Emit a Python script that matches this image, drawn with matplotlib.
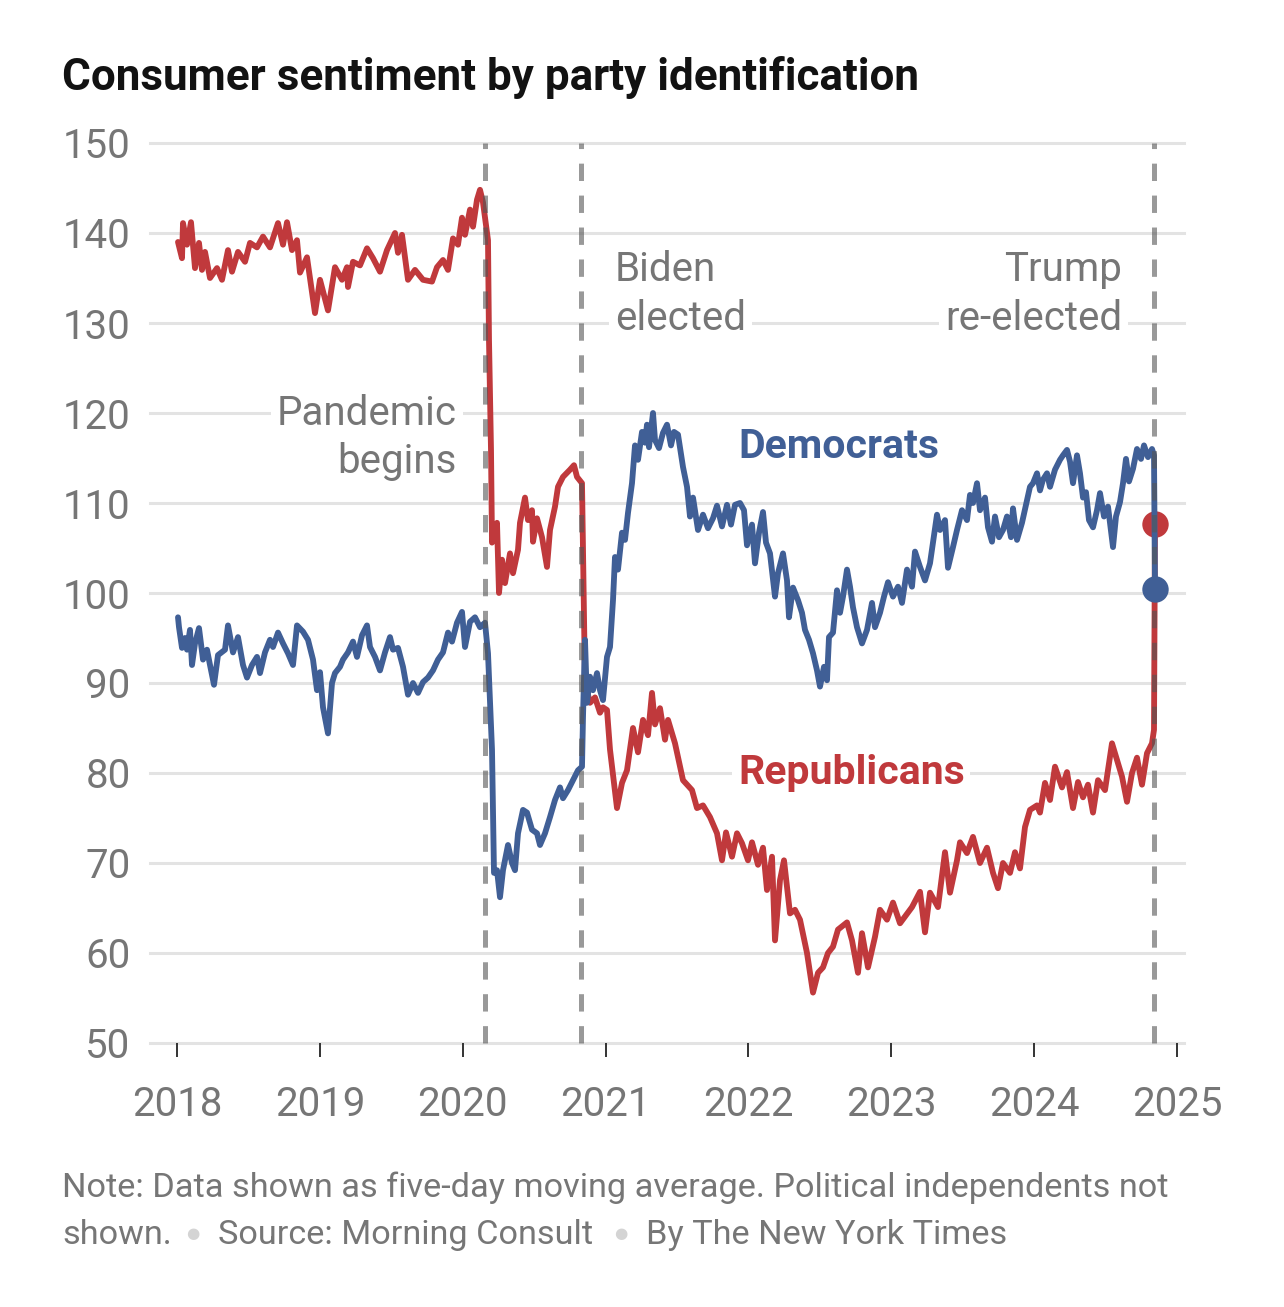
import matplotlib
matplotlib.use("Agg")
import matplotlib.pyplot as plt
from matplotlib import font_manager

# ---------------- data (decimal year, index value) ----------------
rep_dates = [2018.007, 2018.035, 2018.042, 2018.070, 2018.098, 2018.126, 2018.154, 2018.175, 2018.196, 2018.231,
             2018.280, 2018.315, 2018.357, 2018.385, 2018.427, 2018.476, 2018.511, 2018.560, 2018.602, 2018.651,
             2018.707, 2018.742, 2018.770, 2018.805, 2018.840, 2018.861, 2018.910, 2018.966, 2019.001, 2019.057,
             2019.106, 2019.155, 2019.190, 2019.197, 2019.232, 2019.281, 2019.330, 2019.372, 2019.421, 2019.470,
             2019.526, 2019.547, 2019.575, 2019.617, 2019.666, 2019.722, 2019.785, 2019.820, 2019.862, 2019.897,
             2019.932, 2019.967, 2019.995, 2020.016, 2020.051, 2020.072, 2020.100, 2020.121, 2020.142, 2020.177,
             2020.184, 2020.198, 2020.205, 2020.240, 2020.254, 2020.275, 2020.296, 2020.331, 2020.352, 2020.387,
             2020.401, 2020.436, 2020.457, 2020.485, 2020.492, 2020.520, 2020.555, 2020.590, 2020.611, 2020.646,
             2020.667, 2020.702, 2020.751, 2020.779, 2020.800, 2020.835, 2020.842, 2020.856, 2020.891, 2020.926,
             2020.961, 2020.982, 2021.010, 2021.031, 2021.080, 2021.115, 2021.150, 2021.192, 2021.227, 2021.262,
             2021.297, 2021.325, 2021.346, 2021.381, 2021.416, 2021.437, 2021.486, 2021.542, 2021.605, 2021.640,
             2021.682, 2021.731, 2021.780, 2021.815, 2021.843, 2021.885, 2021.920, 2021.955, 2021.997, 2022.025,
             2022.067, 2022.102, 2022.130, 2022.165, 2022.186, 2022.221, 2022.249, 2022.291, 2022.326, 2022.361,
             2022.410, 2022.452, 2022.487, 2022.522, 2022.557, 2022.592, 2022.627, 2022.690, 2022.725, 2022.767,
             2022.795, 2022.837, 2022.886, 2022.921, 2022.970, 2023.012, 2023.061, 2023.145, 2023.201, 2023.236,
             2023.271, 2023.327, 2023.376, 2023.411, 2023.460, 2023.481, 2023.530, 2023.572, 2023.621, 2023.670,
             2023.712, 2023.747, 2023.782, 2023.831, 2023.866, 2023.901, 2023.936, 2023.971, 2024.020, 2024.041,
             2024.076, 2024.111, 2024.146, 2024.195, 2024.230, 2024.272, 2024.307, 2024.342, 2024.377, 2024.412,
             2024.447, 2024.496, 2024.545, 2024.587, 2024.615, 2024.650, 2024.685, 2024.720, 2024.755, 2024.790,
             2024.825, 2024.839, 2024.846]
rep_values = [139.0, 137.2, 141.1, 138.7, 141.2, 136.1, 138.9, 135.9, 137.9, 135.0,
              136.1, 134.8, 138.1, 135.7, 137.9, 136.8, 138.9, 138.4, 139.6, 138.4,
              141.1, 138.7, 141.2, 138.1, 139.2, 135.6, 137.3, 131.1, 134.8, 131.4,
              136.2, 134.8, 136.2, 134.0, 136.8, 136.4, 138.3, 137.2, 135.7, 138.1,
              140.0, 137.8, 139.8, 134.8, 135.9, 134.8, 134.6, 136.2, 137.0, 135.9,
              139.4, 138.7, 141.7, 139.8, 142.6, 140.7, 143.7, 144.8, 143.4, 139.2,
              128.1, 115.9, 105.6, 107.8, 100.0, 103.7, 101.1, 104.4, 102.2, 104.8,
              107.8, 110.6, 108.1, 109.2, 105.7, 108.3, 106.2, 102.9, 107.0, 109.6,
              111.8, 112.9, 113.7, 114.2, 112.9, 112.2, 104.8, 90.0, 87.8, 88.4,
              86.7, 87.3, 87.0, 82.6, 76.1, 78.9, 80.3, 85.0, 82.3, 85.9,
              84.2, 88.9, 85.4, 87.2, 83.7, 85.9, 83.3, 79.2, 78.1, 76.1,
              76.4, 75.1, 73.3, 70.3, 73.4, 70.7, 73.3, 72.2, 70.3, 72.3,
              69.8, 71.7, 67.0, 70.7, 61.4, 68.1, 70.3, 64.4, 64.8, 63.7,
              60.0, 55.6, 57.8, 58.4, 60.0, 60.7, 62.6, 63.4, 61.4, 57.8,
              62.2, 58.4, 61.8, 64.8, 63.7, 65.6, 63.3, 65.1, 66.8, 62.3,
              66.7, 65.1, 71.2, 66.7, 70.3, 72.3, 71.1, 72.9, 70.0, 71.7,
              68.9, 67.2, 70.0, 68.9, 71.2, 69.4, 74.0, 75.9, 76.4, 75.6,
              78.9, 77.0, 80.7, 78.4, 80.1, 76.1, 79.0, 77.3, 78.7, 75.6,
              79.2, 78.1, 83.3, 81.1, 79.6, 76.8, 80.0, 81.7, 78.7, 82.2,
              83.3, 84.8, 107.7]

dem_dates = [2018.007, 2018.014, 2018.035, 2018.056, 2018.070, 2018.091, 2018.105, 2018.126, 2018.154, 2018.182,
             2018.210, 2018.231, 2018.259, 2018.287, 2018.336, 2018.357, 2018.392, 2018.427, 2018.462, 2018.490,
             2018.525, 2018.560, 2018.581, 2018.616, 2018.651, 2018.672, 2018.707, 2018.742, 2018.777, 2018.812,
             2018.840, 2018.882, 2018.917, 2018.952, 2018.980, 2019.001, 2019.022, 2019.057, 2019.085, 2019.106,
             2019.141, 2019.162, 2019.197, 2019.232, 2019.260, 2019.295, 2019.330, 2019.351, 2019.386, 2019.421,
             2019.456, 2019.491, 2019.512, 2019.547, 2019.582, 2019.617, 2019.652, 2019.687, 2019.722, 2019.757,
             2019.792, 2019.827, 2019.862, 2019.897, 2019.925, 2019.960, 2019.995, 2020.016, 2020.051, 2020.086,
             2020.121, 2020.156, 2020.177, 2020.205, 2020.219, 2020.240, 2020.261, 2020.282, 2020.317, 2020.345,
             2020.366, 2020.387, 2020.422, 2020.450, 2020.485, 2020.520, 2020.541, 2020.576, 2020.611, 2020.646,
             2020.681, 2020.702, 2020.737, 2020.772, 2020.807, 2020.835, 2020.842, 2020.856, 2020.870, 2020.891,
             2020.912, 2020.940, 2020.961, 2020.982, 2021.010, 2021.031, 2021.052, 2021.066, 2021.087, 2021.115,
             2021.136, 2021.157, 2021.185, 2021.206, 2021.227, 2021.255, 2021.276, 2021.290, 2021.304, 2021.332,
             2021.346, 2021.374, 2021.402, 2021.430, 2021.458, 2021.479, 2021.507, 2021.542, 2021.570, 2021.591,
             2021.612, 2021.647, 2021.682, 2021.717, 2021.752, 2021.780, 2021.815, 2021.850, 2021.878, 2021.906,
             2021.941, 2021.969, 2021.990, 2022.025, 2022.046, 2022.074, 2022.102, 2022.123, 2022.151, 2022.186,
             2022.207, 2022.242, 2022.270, 2022.284, 2022.312, 2022.347, 2022.375, 2022.396, 2022.424, 2022.452,
             2022.480, 2022.501, 2022.529, 2022.550, 2022.564, 2022.592, 2022.620, 2022.641, 2022.662, 2022.690,
             2022.711, 2022.732, 2022.760, 2022.795, 2022.830, 2022.865, 2022.886, 2022.921, 2022.949, 2022.977,
             2023.012, 2023.047, 2023.075, 2023.110, 2023.145, 2023.166, 2023.201, 2023.236, 2023.271, 2023.292,
             2023.320, 2023.341, 2023.376, 2023.397, 2023.432, 2023.460, 2023.495, 2023.530, 2023.551, 2023.572,
             2023.600, 2023.621, 2023.656, 2023.677, 2023.705, 2023.726, 2023.754, 2023.782, 2023.810, 2023.838,
             2023.852, 2023.880, 2023.915, 2023.950, 2023.971, 2023.992, 2024.020, 2024.041, 2024.062, 2024.090,
             2024.111, 2024.146, 2024.181, 2024.202, 2024.230, 2024.251, 2024.272, 2024.300, 2024.321, 2024.342,
             2024.363, 2024.384, 2024.412, 2024.440, 2024.461, 2024.489, 2024.517, 2024.552, 2024.573, 2024.601,
             2024.622, 2024.643, 2024.664, 2024.692, 2024.720, 2024.748, 2024.769, 2024.797, 2024.825, 2024.839,
             2024.846]
dem_values = [97.3, 96.2, 93.9, 95.0, 93.7, 95.9, 92.0, 94.4, 96.1, 92.6,
              93.7, 92.0, 89.8, 93.1, 93.7, 96.4, 93.4, 95.1, 92.0, 90.6,
              92.0, 92.9, 91.1, 93.4, 94.8, 94.0, 95.6, 94.4, 93.3, 92.0,
              96.4, 95.7, 94.8, 92.6, 89.2, 91.2, 87.3, 84.4, 90.0, 91.1,
              91.8, 92.6, 93.4, 94.6, 92.9, 95.3, 96.4, 94.0, 92.9, 91.4,
              93.4, 95.1, 93.7, 93.9, 91.8, 88.7, 90.0, 88.9, 90.1, 90.6,
              91.4, 92.6, 93.4, 95.6, 94.6, 96.7, 97.9, 94.0, 96.8, 97.3,
              96.2, 96.7, 93.3, 82.6, 68.9, 69.2, 66.2, 69.2, 72.0, 70.0,
              69.2, 73.3, 75.9, 75.6, 73.7, 73.3, 72.0, 73.3, 75.1, 77.0,
              78.4, 77.2, 78.1, 79.2, 80.3, 80.7, 86.2, 94.8, 87.8, 90.7,
              89.2, 91.1, 89.2, 88.1, 92.9, 94.0, 99.2, 104.0, 102.6, 106.7,
              105.9, 108.9, 112.2, 116.4, 114.8, 117.9, 116.7, 118.7, 116.2, 120.0,
              117.0, 116.1, 117.8, 118.7, 116.4, 117.9, 117.6, 114.0, 111.8, 108.5,
              110.6, 107.0, 108.7, 107.2, 108.3, 109.7, 107.4, 109.8, 107.6, 109.8,
              110.0, 109.2, 105.3, 107.6, 103.3, 106.7, 109.0, 105.6, 104.4, 99.6,
              102.2, 104.4, 101.4, 97.3, 100.6, 99.2, 97.8, 95.9, 94.8, 93.3,
              91.4, 89.6, 91.8, 90.3, 95.1, 95.6, 100.3, 97.8, 99.6, 102.6,
              100.7, 98.4, 96.2, 94.4, 95.9, 98.9, 96.2, 97.8, 99.6, 101.2,
              99.6, 100.7, 98.9, 102.6, 100.7, 104.6, 102.9, 101.4, 103.3, 105.6,
              108.7, 107.0, 108.1, 102.8, 105.1, 107.0, 109.2, 108.1, 110.9, 110.0,
              112.2, 109.2, 110.6, 107.3, 105.7, 108.5, 106.2, 107.0, 108.5, 106.2,
              109.4, 105.9, 107.8, 110.3, 111.8, 112.2, 113.3, 111.4, 112.6, 113.3,
              111.8, 113.7, 114.8, 115.3, 115.9, 114.6, 112.2, 115.3, 113.3, 110.6,
              111.2, 108.1, 107.3, 109.2, 111.1, 108.5, 109.6, 105.1, 108.5, 110.1,
              112.2, 114.9, 112.4, 113.8, 116.0, 114.9, 116.4, 115.1, 116.0, 115.3,
              100.4]

event_dates = [2020.156, 2020.828, 2024.839]
year_ticks = [2018, 2019, 2020, 2021, 2022, 2023, 2024, 2025]
y_ticks = [50, 60, 70, 80, 90, 100, 110, 120, 130, 140, 150]

TITLE = "Consumer sentiment by party identification"
NOTE1 = "Note: Data shown as five-day moving average. Political independents not"
NOTE2 = ["shown.", "Source: Morning Consult", "By The New York Times"]

# ---------------- style ----------------
RED = "#c0393c"
BLUE = "#405f96"
GRAY = "#767676"
GRID = "#e3e3e3"

avail = {f.name for f in font_manager.fontManager.ttflist}
BASE = "Roboto" if "Roboto" in avail else "DejaVu Sans"
COND = "Liberation Sans Narrow" if "Liberation Sans Narrow" in avail else BASE
plt.rcParams["font.family"] = [BASE, "DejaVu Sans"]
plt.rcParams["lines.scale_dashes"] = False

W, H = 1284, 1307
fig = plt.figure(figsize=(W / 100, H / 100), dpi=100)
fig.patch.set_facecolor("white")

ax = fig.add_axes([150 / W, (H - 1043) / H, 1034 / W, 900 / H])
x0 = 2018 - 27 / 142.857
x1 = 2018 + (1184 - 177) / 142.857
ax.set_xlim(x0, x1)
ax.set_ylim(50, 150)
for s in ax.spines.values():
    s.set_visible(False)

for v in y_ticks:
    ax.axhline(v, color=GRID, lw=2.2, zorder=0.5, clip_on=False)

ax.set_yticks(y_ticks)
ax.set_yticklabels([str(v) for v in y_ticks])
ax.tick_params(axis="y", length=0, pad=14, labelsize=29, labelcolor=GRAY)
ax.set_xticks(year_ticks)
ax.set_xticklabels([str(y) for y in year_ticks])
ax.tick_params(axis="x", length=10, width=1.4, color="#333333", pad=20,
               labelsize=29, labelcolor=GRAY)

LW = 4.2
# data lines
ax.plot(rep_dates, rep_values, color=RED, lw=LW, solid_joinstyle="round",
        solid_capstyle="round", zorder=3)
ax.plot(rep_dates[-1:], rep_values[-1:], "o", color=RED, ms=19, mew=0, zorder=4)
ax.plot(dem_dates, dem_values, color=BLUE, lw=LW, solid_joinstyle="round",
        solid_capstyle="round", zorder=5)

for d in event_dates:
    ax.plot([d, d], [50, 150], color="#555555", alpha=0.6, lw=3.6,
            dashes=(12.5, 10.5), solid_capstyle="butt", dash_capstyle="butt",
            zorder=6, clip_on=False)

ax.plot(dem_dates[-1:], dem_values[-1:], "o", color=BLUE, ms=19, mew=0, zorder=7)

# annotations
box = dict(facecolor="white", edgecolor="none", pad=4)
ax.text(2019.96, 117.28, "Pandemic\nbegins", ha="right", va="center",
        multialignment="right", fontsize=29, color=GRAY, bbox=box, zorder=1.5,
        linespacing=1.32)
ax.text(2021.066, 133.2, "Biden\nelected", ha="left", va="center",
        fontsize=29, color=GRAY, bbox=box, zorder=1.5, linespacing=1.32)
ax.text(2024.615, 133.2, "Trump\nre-elected", ha="right", va="center",
        multialignment="right", fontsize=29, color=GRAY, bbox=box, zorder=1.5,
        linespacing=1.32)
ax.text(2021.927, 116.2, "Democrats", ha="left", va="center", fontsize=29.5,
        fontweight="bold", color=BLUE, bbox=box, zorder=1.5)
ax.text(2021.927, 80.0, "Republicans", ha="left", va="center", fontsize=29.5,
        fontweight="bold", color=RED, bbox=box, zorder=1.5)

# title, fitted to reference width
title = fig.text(62 / W, 1 - 90 / H, TITLE, ha="left", va="baseline",
                 fontsize=30, fontweight="bold", color="#121212",
                 family=[COND, "DejaVu Sans"])
fig.canvas.draw()
r = fig.canvas.get_renderer()
bw = title.get_window_extent(r).width
title.set_fontsize(30 * 856 / bw)

# footer
FS = 24.7
fig.text(62 / W, 1 - 1197 / H, NOTE1, ha="left", va="baseline", fontsize=FS, color=GRAY)
fig.text(62 / W, 1 - 1244 / H, NOTE2[0], ha="left", va="baseline", fontsize=FS, color=GRAY)
fig.text(218 / W, 1 - 1244 / H, NOTE2[1], ha="left", va="baseline", fontsize=FS, color=GRAY)
fig.text(646 / W, 1 - 1244 / H, NOTE2[2], ha="left", va="baseline", fontsize=FS, color=GRAY)
for bx in (193, 621):
    fig.text(bx / W, 1 - 1234 / H, "\u25CF", ha="center", va="center",
             fontsize=11, color="#d4d4d4", family=["DejaVu Sans"])

fig.savefig("out.png", dpi=100, facecolor="white")
